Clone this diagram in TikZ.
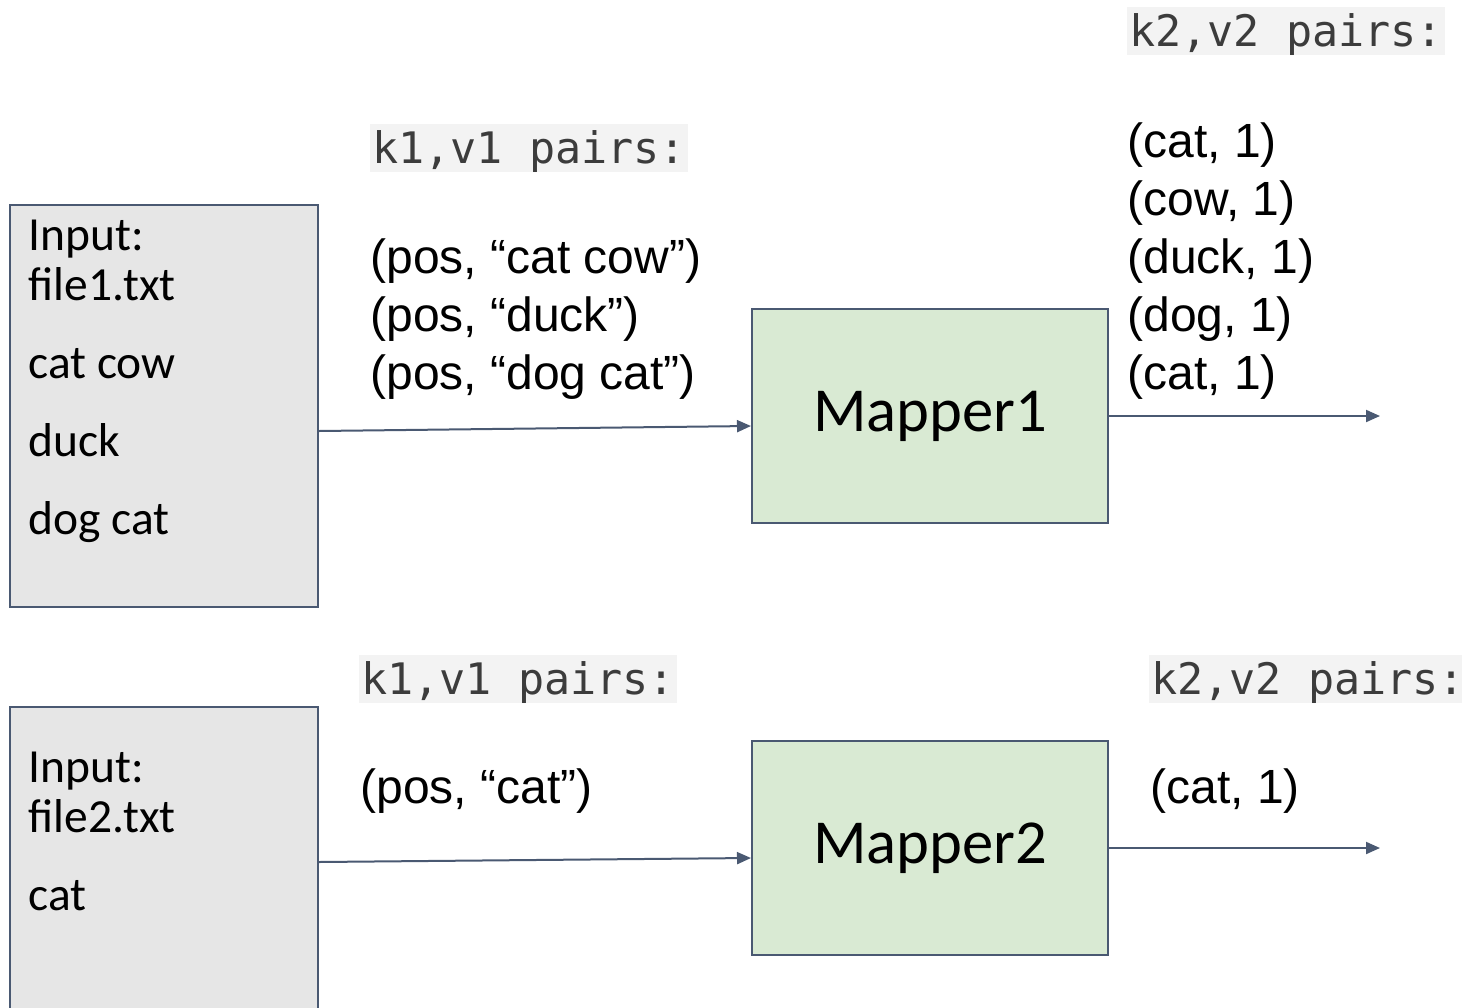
\documentclass[tikz,border=0pt]{standalone}
\usepackage{fontspec}
\usetikzlibrary{arrows.meta}
\newfontfamily\boxfont{Carlito}
\newfontfamily\pairfont{Liberation Sans}
\newfontfamily\labelfont{DejaVu Sans Mono}
\definecolor{edge}{RGB}{74,89,114}
\definecolor{infill}{RGB}{230,230,230}
\definecolor{mapfill}{RGB}{217,234,211}
\definecolor{codebg}{RGB}{243,243,243}
\definecolor{codeink}{RGB}{60,60,60}
\newcommand{\txtline}[4][]{\node[anchor=base west,inner sep=0,#1] at (#2) (#3) {#4}}
\newcommand{\kvlabel}[3]{\node[anchor=base west,fill=codebg,text=codeink,inner xsep=1pt,inner ysep=0,text height=19.5pt,text depth=4.5pt,font=\labelfont\fontsize{21.7}{26}\selectfont] at (#1) (#2) {#3}}

\begin{document}
\begin{tikzpicture}[x=0.5pt,y=-0.5pt,
	inbox/.style={draw=edge,line width=1pt,fill=infill,minimum width=154pt,inner sep=0},
	mapbox/.style={draw=edge,line width=1pt,fill=mapfill,minimum width=178pt,minimum height=107pt,font=\boxfont\fontsize{31.3}{36}\selectfont},
	intext/.style={font=\boxfont\fontsize{23.75}{28}\selectfont},
	pairtext/.style={font=\pairfont\fontsize{24}{29}\selectfont},
	flow/.style={draw=edge,line width=1pt,-{Triangle[length=7pt,width=6pt]}}]
	\useasboundingbox (0,0) rectangle (1462,1007);
	
	% first mapper
	\node[inbox,minimum height=201pt] at (164,406) (in1) {};
	\txtline[intext]{28,250}{in1a}{Input:};
	\txtline[intext]{28,300}{in1b}{file1.txt};
	\txtline[intext]{28,378}{in1c}{cat cow};
	\txtline[intext]{28,456}{in1d}{duck};
	\txtline[intext]{28,534}{in1e}{dog cat};
	
	\kvlabel{370,163}{kv1a}{k1,v1 pairs:};
	\txtline[pairtext]{370,273}{p1a}{(pos, “cat cow”)};
	\txtline[pairtext]{370,331}{p1b}{(pos, “duck”)};
	\txtline[pairtext]{370,389}{p1c}{(pos, “dog cat”)};
	
	\node[mapbox] at (930,416) (m1) {Mapper1};
	
	\kvlabel{1127,46}{kv2a}{k2,v2 pairs:};
	\txtline[pairtext]{1127,157}{q1a}{(cat, 1)};
	\txtline[pairtext]{1127,215}{q1b}{(cow, 1)};
	\txtline[pairtext]{1127,273}{q1c}{(duck, 1)};
	\txtline[pairtext]{1127,331}{q1d}{(dog, 1)};
	\txtline[pairtext]{1127,389}{q1e}{(cat, 1)};
	
	\coordinate (out1) at (1380,416);
	\draw[flow] ([yshift=-12.5pt]in1.east) -- ([yshift=-5pt]m1.west);
	\draw[flow] (m1.east) -- (out1);
	
	% second mapper
	\node[inbox,minimum height=170pt] at (164,877) (in2) {};
	\txtline[intext]{28,782}{in2a}{Input:};
	\txtline[intext]{28,832}{in2b}{file2.txt};
	\txtline[intext]{28,910}{in2c}{cat};
	
	\kvlabel{359,694}{kv1b}{k1,v1 pairs:};
	\txtline[pairtext]{360,803}{p2a}{(pos, “cat”)};
	
	\node[mapbox] at (930,848) (m2) {Mapper2};
	
	\kvlabel{1149,694}{kv2b}{k2,v2 pairs:};
	\txtline[pairtext]{1150,803}{q2a}{(cat, 1)};
	
	\coordinate (out2) at (1380,848);
	\draw[flow] ([yshift=7.5pt]in2.east) -- ([yshift=-5pt]m2.west);
	\draw[flow] (m2.east) -- (out2);
	
\end{tikzpicture}
\end{document}
